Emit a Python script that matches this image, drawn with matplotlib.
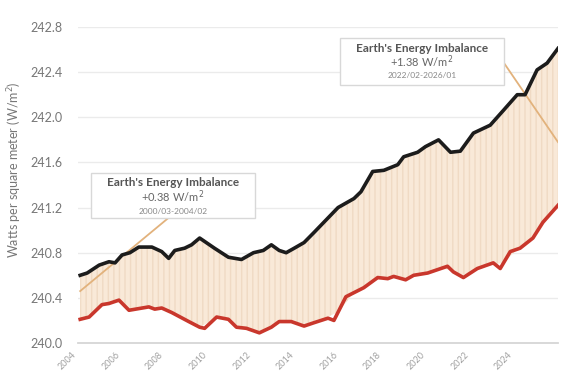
import matplotlib.pyplot as plt
from matplotlib.patches import Rectangle
import numpy as np

plt.rcParams['font.family'] = ['Lato', 'DejaVu Sans']

# absorbed solar (black) and outgoing longwave (red), W/m^2, 48-month running means
top_year = [2004.10, 2004.42, 2004.97, 2005.42, 2005.70, 2006.02, 2006.38, 2006.79, 2007.39, 2007.84,
            2008.16, 2008.44, 2008.89, 2009.21, 2009.58, 2010.26, 2010.90, 2011.50, 2012.05, 2012.50,
            2012.87, 2013.23, 2013.55, 2013.92, 2014.37, 2014.83, 2015.93, 2016.66, 2016.98, 2017.52,
            2018.03, 2018.67, 2018.94, 2019.58, 2019.94, 2020.54, 2021.09, 2021.54, 2022.14, 2022.91,
            2023.51, 2024.15, 2024.51, 2025.06, 2025.52, 2026.02]
top_val = [240.60, 240.62, 240.69, 240.72, 240.71, 240.78, 240.80, 240.85, 240.85, 240.81,
           240.75, 240.82, 240.84, 240.87, 240.93, 240.84, 240.76, 240.74, 240.80, 240.82,
           240.87, 240.82, 240.80, 240.84, 240.89, 240.98, 241.20, 241.28, 241.34, 241.52,
           241.53, 241.58, 241.65, 241.69, 241.74, 241.80, 241.69, 241.70, 241.86, 241.93,
           242.06, 242.20, 242.20, 242.42, 242.48, 242.61]

low_year = [2004.10, 2004.51, 2005.10, 2005.42, 2005.88, 2006.34, 2007.25, 2007.52, 2007.84, 2008.30,
            2009.08, 2009.58, 2009.81, 2010.36, 2010.90, 2011.27, 2011.73, 2012.32, 2012.87, 2013.23,
            2013.78, 2014.37, 2014.83, 2015.47, 2015.74, 2016.29, 2017.11, 2017.75, 2018.21, 2018.48,
            2019.03, 2019.40, 2020.04, 2020.95, 2021.22, 2021.68, 2022.32, 2023.05, 2023.37, 2023.83,
            2024.28, 2024.87, 2025.33, 2026.02]
low_val = [240.21, 240.23, 240.34, 240.35, 240.38, 240.29, 240.32, 240.30, 240.31, 240.27,
           240.19, 240.14, 240.13, 240.23, 240.21, 240.14, 240.13, 240.09, 240.14, 240.19,
           240.19, 240.15, 240.18, 240.22, 240.20, 240.41, 240.49, 240.58, 240.57, 240.59,
           240.56, 240.60, 240.62, 240.68, 240.63, 240.58, 240.66, 240.71, 240.66, 240.81,
           240.84, 240.93, 241.07, 241.22]

trend1_x = [2004.10, 2008.16]
trend1_y = [240.46, 241.11]
trend2_x = [2023.51, 2026.02]
trend2_y = [242.49, 241.78]

yticks = [240.0, 240.4, 240.8, 241.2, 241.6, 242.0, 242.4, 242.8]
xticks = [2004, 2006, 2008, 2010, 2012, 2014, 2016, 2018, 2020, 2022, 2024]

boxes = [
    ("Earth's Energy Imbalance", "+0.38 W/m$^2$", "2000/03-2004/02"),
    ("Earth's Energy Imbalance", "+1.38 W/m$^2$", "2022/02-2026/01"),
]

fig = plt.figure(figsize=(5.74, 3.75), dpi=100)
ax = fig.add_axes([78/574, 1-343/375, 480/574, 316/375])

# shaded gap between the two curves
grid = np.array(top_year)
low_on_grid = np.interp(grid, low_year, low_val)
ax.fill_between(grid, low_on_grid, top_val, facecolor='#f9e9d8', edgecolor='#f0dac4',
                hatch='|||', linewidth=0, zorder=1)

ax.plot(trend1_x, trend1_y, color='#e2b27c', lw=1.3, zorder=2)
ax.plot(trend2_x, trend2_y, color='#e2b27c', lw=1.3, zorder=2)
ax.plot(top_year, top_val, color='#1c1c1c', lw=2.6, zorder=3)
ax.plot(low_year, low_val, color='#c9372c', lw=2.6, zorder=3)

ax.set_xlim(2004.1, 2026.02)
ax.set_ylim(240.0, 242.8)
ax.set_yticks(yticks)
ax.set_yticklabels([f'{v:.1f}' for v in yticks], color='#777777', fontsize=9)
ax.set_xticks(xticks)
ax.set_xticklabels([str(x) for x in xticks], rotation=45, ha='right', color='#a0a0a0', fontsize=6.5)
ax.tick_params(length=0, pad=11, axis='y')
ax.tick_params(length=0, pad=5, axis='x')
ax.grid(axis='y', color='#ebebeb', lw=1)
ax.set_axisbelow(True)
for s in ['top', 'right', 'left']:
    ax.spines[s].set_visible(False)
ax.spines['bottom'].set_color('#d6d6d6')
ax.spines['bottom'].set_linewidth(1.3)

fig.text(15/574, 1-170/375, 'Watts per square meter (W/m$^2$)', rotation=90,
         ha='center', va='center', color='#777777', fontsize=9)

box_pos = [(91, 173, 255, 218), (340, 38, 504, 85)]
for (x0, y0, x1, y1), (title, val, dates) in zip(box_pos, boxes):
    fx0, fx1 = x0/574, x1/574
    fy0, fy1 = 1-y1/375, 1-y0/375
    fig.patches.append(Rectangle((fx0, fy0), fx1-fx0, fy1-fy0, transform=fig.transFigure,
                                 facecolor='white', edgecolor='#d8d8d8', lw=1, zorder=5))
    cx = (fx0 + fx1) / 2
    fig.text(cx, 1-(y0+10)/375, title, ha='center', va='center', fontsize=8.5,
             fontweight='bold', color='#555555', zorder=6)
    fig.text(cx, 1-(y0+24)/375, val, ha='center', va='center', fontsize=8,
             color='#666666', zorder=6)
    fig.text(cx, 1-(y0+38)/375, dates, ha='center', va='center', fontsize=6,
             color='#888888', zorder=6)

fig.savefig('out.png', dpi=100)
